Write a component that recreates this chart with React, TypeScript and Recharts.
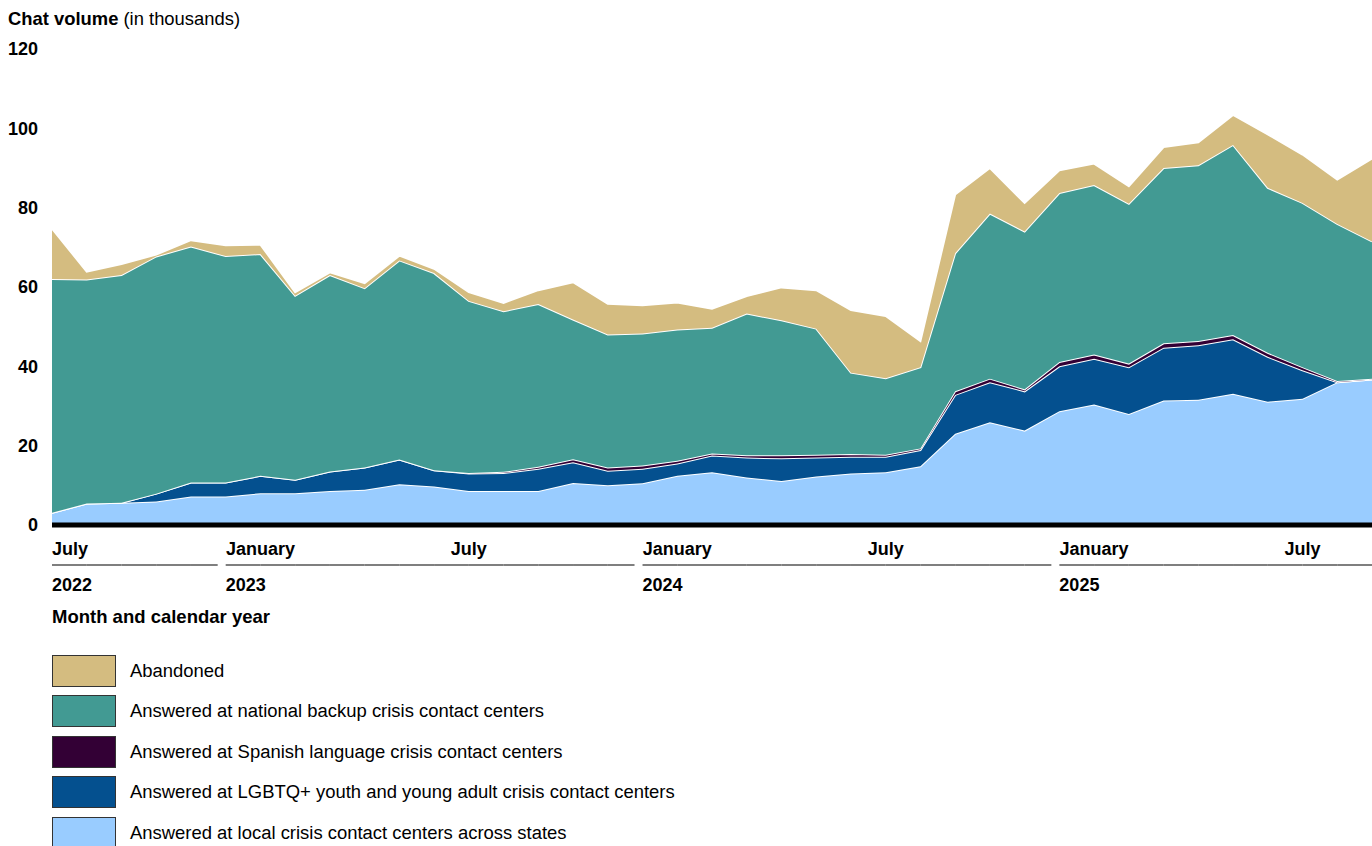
import { Area, AreaChart, ReferenceLine, XAxis, YAxis } from "recharts";

const months = [
  "Jul 2022", "Aug 2022", "Sep 2022", "Oct 2022", "Nov 2022", "Dec 2022",
  "Jan 2023", "Feb 2023", "Mar 2023", "Apr 2023", "May 2023", "Jun 2023",
  "Jul 2023", "Aug 2023", "Sep 2023", "Oct 2023", "Nov 2023", "Dec 2023",
  "Jan 2024", "Feb 2024", "Mar 2024", "Apr 2024", "May 2024", "Jun 2024",
  "Jul 2024", "Aug 2024", "Sep 2024", "Oct 2024", "Nov 2024", "Dec 2024",
  "Jan 2025", "Feb 2025", "Mar 2025", "Apr 2025", "May 2025", "Jun 2025",
  "Jul 2025", "Aug 2025", "Sep 2025",
];

// values in thousands
const local = [
  3.1, 5.4, 5.6, 5.9, 7.2, 7.2, 8.0, 8.0, 8.6, 8.9, 10.3, 9.7, 8.6, 8.6, 8.6,
  10.6, 10.0, 10.5, 12.4, 13.3, 12.0, 11.1, 12.2, 13.0, 13.3, 14.8, 23.0, 25.9,
  23.8, 28.7, 30.4, 28.0, 31.4, 31.6, 33.1, 31.1, 31.8, 36.0, 36.7,
];
const lgbtq = [
  0, 0, 0, 2.0, 3.5, 3.5, 4.4, 3.4, 4.9, 5.6, 6.2, 4.1, 4.4, 4.5, 5.6, 5.2, 3.7,
  3.7, 3.1, 4.2, 5.0, 5.7, 4.8, 4.2, 3.9, 4.1, 9.8, 10.1, 9.9, 11.3, 11.5, 11.8,
  13.3, 13.7, 13.7, 11.3, 7.2, 0, 0,
];
const spanish = [
  0, 0, 0, 0, 0, 0, 0, 0, 0, 0, 0, 0, 0.1, 0.3, 0.5, 0.8, 0.8, 0.8, 0.7, 0.5,
  0.6, 0.8, 0.7, 0.7, 0.5, 0.4, 0.9, 0.9, 0.5, 1.1, 1.1, 0.9, 1.1, 1.1, 1.1, 1.0,
  0.8, 0.3, 0.2,
];
const national = [
  58.9, 56.5, 57.4, 59.8, 59.5, 57.1, 55.9, 46.4, 49.5, 45.2, 50.2, 49.7, 43.4,
  40.5, 41.0, 35.2, 33.5, 33.3, 33.1, 31.7, 35.7, 34.0, 31.8, 20.5, 19.3, 20.5,
  34.8, 41.6, 39.8, 42.6, 42.7, 40.3, 44.2, 44.3, 47.9, 41.6, 41.4, 39.6, 34.6,
];
const abandoned = [
  12.7, 2.0, 2.8, 0.5, 1.6, 2.7, 2.4, 0.9, 0.7, 1.3, 1.2, 1.1, 2.2, 2.1, 3.5,
  9.4, 7.8, 7.1, 6.8, 4.8, 4.4, 8.3, 9.7, 15.8, 15.7, 6.6, 14.8, 11.5, 7.2, 5.7,
  5.4, 4.4, 5.3, 5.8, 7.6, 13.5, 12.2, 11.2, 20.9,
];

const yTicks = [0, 20, 40, 60, 80, 100, 120];
const monthLabels: Record<string, string> = { Jan: "January", Jul: "July" };
const yearLabels = ["2022", "2023", "2024", "2025"];
const yearStarts = ["Jul 2022", "Dec 2022", "Dec 2023", "Dec 2024"];

const series = [
  { key: "local", name: "Answered at local crisis contact centers across states", color: "#99CCFF" },
  { key: "lgbtq", name: "Answered at LGBTQ+ youth and young adult crisis contact centers", color: "#04508F" },
  { key: "spanish", name: "Answered at Spanish language crisis contact centers", color: "#330035" },
  { key: "national", name: "Answered at national backup crisis contact centers", color: "#429A93" },
  { key: "abandoned", name: "Abandoned", color: "#D4BC80" },
];

const data = months.map((month, i) => ({
  month,
  local: local[i],
  lgbtq: lgbtq[i],
  spanish: spanish[i],
  national: national[i],
  abandoned: abandoned[i],
}));

const WIDTH = 1372;
const LEFT = 52;
const STEP = (WIDTH - LEFT) / (months.length - 1);
const FONT = "'Liberation Sans', Arial, sans-serif";

const MonthTick = (props: any) => {
  const { x, y, payload, index } = props;
  const value: string = payload.value;
  const label = monthLabels[value.slice(0, 3)];
  const yearIdx = yearStarts.indexOf(value);
  const next = months[index + 1];
  const lineEnd = next ? x + STEP - (yearStarts.includes(next) ? 8 : 0) : x;
  return (
    <g>
      {label && (
        <text
          x={x}
          y={y + 30}
          textAnchor={index === 0 ? "start" : "middle"}
          fontSize={18}
          fontWeight={700}
          fill="#000"
        >
          {label}
        </text>
      )}
      {next && (
        <line x1={x} x2={lineEnd} y1={y + 40} y2={y + 40} stroke="#555" strokeWidth={1.5} />
      )}
      {yearIdx >= 0 && (
        <text x={x} y={y + 66} fontSize={18} fontWeight={700} fill="#000">
          {yearLabels[yearIdx]}
        </text>
      )}
    </g>
  );
};

export default function App() {
  return (
    <div
      style={{
        position: "absolute",
        left: 0,
        top: 0,
        width: WIDTH,
        height: 846,
        overflow: "hidden",
        background: "#fff",
        fontFamily: FONT,
        color: "#000",
      }}
    >
      <div style={{ position: "absolute", left: 8, top: 10, fontSize: 18.4, lineHeight: "18px" }}>
        <b>Chat volume</b> (in thousands)
      </div>
      <div style={{ position: "absolute", left: 0, top: 0 }}>
        <AreaChart
          width={WIDTH}
          height={605}
          data={data}
          margin={{ top: 49, right: 0, bottom: 0, left: 0 }}
        >
          <XAxis
            dataKey="month"
            interval={0}
            axisLine={false}
            tickLine={false}
            tickSize={0}
            tickMargin={0}
            height={80}
            tick={<MonthTick />}
          />
          <YAxis
            width={LEFT}
            domain={[0, 120]}
            ticks={yTicks}
            axisLine={false}
            tickLine={false}
            tickSize={0}
            tickMargin={14}
            tick={{ fill: "#000", fontSize: 18, fontWeight: 700 }}
          />
          {series.map((s) => (
            <Area
              key={s.key}
              dataKey={s.key}
              name={s.name}
              stackId="1"
              type="linear"
              fill={s.color}
              fillOpacity={1}
              stroke="#fff"
              strokeWidth={2}
              isAnimationActive={false}
            />
          ))}
          <ReferenceLine y={0} stroke="#000" strokeWidth={5} />
        </AreaChart>
      </div>
      <div
        style={{
          position: "absolute",
          left: 52,
          top: 608,
          fontSize: 18.5,
          lineHeight: "18px",
          fontWeight: 700,
        }}
      >
        Month and calendar year
      </div>
      {[...series].reverse().map((s, i) => (
        <div
          key={s.key}
          style={{
            position: "absolute",
            left: 52,
            top: 655 + i * 40.4,
            display: "flex",
            alignItems: "center",
            fontSize: 18.45,
            lineHeight: "18px",
          }}
        >
          <div
            style={{
              width: 64,
              height: 32,
              boxSizing: "border-box",
              border: "1px solid #333",
              background: s.color,
              marginRight: 14,
            }}
          />
          <span>{s.name}</span>
        </div>
      ))}
    </div>
  );
}
